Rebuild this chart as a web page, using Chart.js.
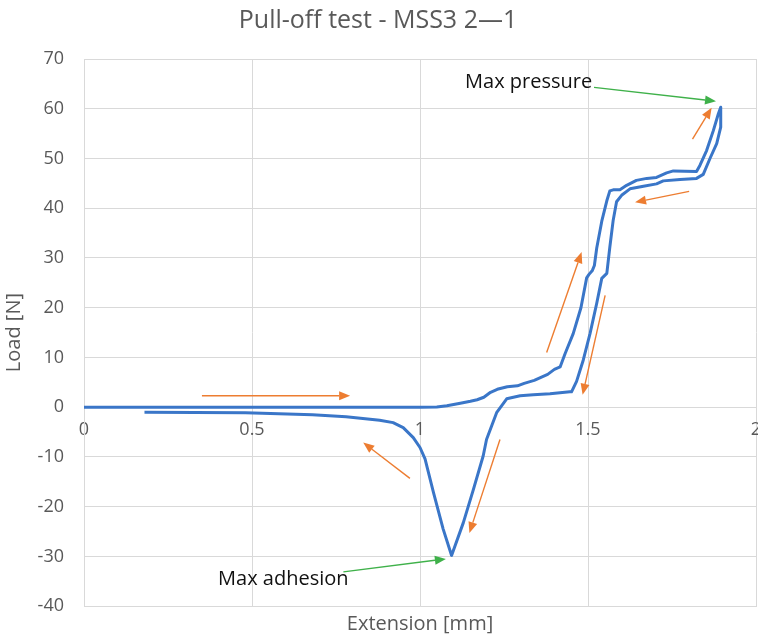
<!DOCTYPE html>
<html>
<head>
<meta charset="utf-8">
<script src="https://cdn.jsdelivr.net/npm/chart.js@4.4.1/dist/chart.umd.min.js"></script>
<style>
  body { margin: 0; background: #fff; }
  canvas { display: block; }
</style>
</head>
<body>
<canvas id="mycanvas" width="758" height="637"></canvas>
<script>
// pull-off run: load goes up to max pressure, then back down through max adhesion
var extension = [
  0, 0.5, 1.0, 1.05, 1.08, 1.12, 1.15, 1.17, 1.19, 1.21, 1.23, 1.26, 1.29, 1.31, 1.34, 1.36,
  1.38, 1.40, 1.417, 1.432, 1.456, 1.479, 1.496, 1.503, 1.513, 1.519, 1.526, 1.541, 1.556, 1.565,
  1.575, 1.595, 1.615, 1.644, 1.675, 1.704, 1.734, 1.754, 1.823, 1.833, 1.853, 1.873, 1.888, 1.895,
  1.895, 1.883, 1.863, 1.843, 1.823, 1.774, 1.724, 1.704, 1.665, 1.625, 1.600, 1.585, 1.575, 1.565,
  1.556, 1.541, 1.526, 1.506, 1.486, 1.466, 1.451, 1.446, 1.387, 1.337, 1.298, 1.258, 1.228, 1.198,
  1.188, 1.159, 1.129, 1.094, 1.069, 1.04, 1.015, 1.0, 0.98, 0.95, 0.92, 0.88, 0.78, 0.68, 0.48, 0.18
];
var load = [
  0, 0, 0, 0.05, 0.3, 0.8, 1.2, 1.5, 2.0, 3.0, 3.6, 4.1, 4.3, 4.8, 5.4, 6.0,
  6.6, 7.6, 8.1, 10.8, 14.8, 20, 26, 26.7, 27.5, 28.5, 32, 37.4, 41.5, 43.5,
  43.7, 43.7, 44.6, 45.6, 46.0, 46.2, 47.1, 47.5, 47.4, 48.6, 51.6, 55.6, 59.0, 60.3,
  56.3, 53.0, 50.0, 46.8, 46.0, 45.8, 45.5, 44.9, 44.4, 43.9, 42.6, 41.3, 37.6, 32.2,
  26.9, 25.9, 20.9, 14.8, 9.5, 5.2, 3.1, 3.1, 2.7, 2.5, 2.3, 1.7, -1.1, -6.5,
  -9.8, -16.5, -23.2, -29.8, -24.5, -17.1, -10.4, -8.1, -6.1, -4.1, -3.1, -2.6, -1.9, -1.5, -1.1, -1.0
];

var xTicks = [0, 0.5, 1, 1.5, 2];
var yTicks = [-40, -30, -20, -10, 0, 10, 20, 30, 40, 50, 60, 70];

// direction arrows, in axis units: [fromX, fromY, toX, toY, colour]
var arrows = [
  [0.351, 2.3, 0.792, 2.3, '#ed7d31'],
  [0.970, -14.3, 0.831, -7.1, '#ed7d31'],
  [1.238, -6.5, 1.147, -25.3, '#ed7d31'],
  [1.377, 11.0, 1.481, 31.2, '#ed7d31'],
  [1.551, 22.5, 1.484, 2.5, '#ed7d31'],
  [1.801, 43.4, 1.640, 41.2, '#ed7d31'],
  [1.811, 53.9, 1.868, 60.2, '#ed7d31'],
  [1.518, 64.3, 1.881, 61.5, '#3fb14a'],
  [0.772, -33.1, 1.077, -30.5, '#3fb14a']
];
var notes = [
  ['Max pressure', 1.134, 65.3],
  ['Max adhesion', 0.399, -34.6]
];

var points = [];
for (var i in extension) {
  points.push({x: extension[i], y: load[i]});
}

var gridColor = '#d9d9d9';
var textColor = '#595959';
var fontFamily = '"Open Sans", "Noto Sans", sans-serif';

var arrowPlugin = {
  id: 'arrows',
  afterDatasetsDraw: function(chart) {
    var ctx = chart.ctx;
    var sx = chart.scales.x, sy = chart.scales.y;
    ctx.save();
    arrows.forEach(function(a) {
      var x1 = sx.getPixelForValue(a[0]), y1 = sy.getPixelForValue(a[1]);
      var x2 = sx.getPixelForValue(a[2]), y2 = sy.getPixelForValue(a[3]);
      var ang = Math.atan2(y2 - y1, x2 - x1);
      var len = 11, half = 4.5;
      var bx = x2 - len * Math.cos(ang), by = y2 - len * Math.sin(ang);
      ctx.strokeStyle = a[4];
      ctx.fillStyle = a[4];
      ctx.lineWidth = 1.4;
      ctx.beginPath();
      ctx.moveTo(x1, y1);
      ctx.lineTo(bx, by);
      ctx.stroke();
      ctx.beginPath();
      ctx.moveTo(x2, y2);
      ctx.lineTo(bx + half * Math.sin(ang), by - half * Math.cos(ang));
      ctx.lineTo(bx - half * Math.sin(ang), by + half * Math.cos(ang));
      ctx.closePath();
      ctx.fill();
    });
    ctx.fillStyle = '#111';
    ctx.font = '20px ' + fontFamily;
    ctx.textAlign = 'left';
    ctx.textBaseline = 'middle';
    notes.forEach(function(n) {
      ctx.fillText(n[0], sx.getPixelForValue(n[1]), sy.getPixelForValue(n[2]));
    });
    ctx.restore();
  }
};

var ctx = document.getElementById('mycanvas');

var lineGraph = new Chart(ctx, {
  type: 'scatter',
  data: {
    datasets: [{
      label: 'Load',
      data: points,
      showLine: true,
      borderColor: '#3a76c8',
      borderWidth: 3,
      pointRadius: 0,
      tension: 0,
      borderJoinStyle: 'round'
    }]
  },
  options: {
    responsive: false,
    animation: false,
    devicePixelRatio: 1,
    layout: { padding: { right: 2 } },
    plugins: {
      legend: { display: false },
      tooltip: { enabled: false },
      title: {
        display: true,
        text: 'Pull-off test - MSS3 2\u20141',
        color: textColor,
        font: { family: fontFamily, size: 25, weight: 'normal' },
        padding: { top: 6, bottom: 23 }
      }
    },
    scales: {
      x: {
        type: 'linear',
        position: 'bottom',
        min: 0,
        max: 2,
        afterBuildTicks: function(scale) {
          scale.ticks = xTicks.map(function(v) { return {value: v}; });
        },
        afterFit: function(scale) { scale.height = 30; },
        ticks: { display: false },
        grid: { color: gridColor, drawTicks: false },
        border: { color: gridColor },
        title: {
          display: true,
          text: 'Extension [mm]',
          color: textColor,
          font: { family: fontFamily, size: 20 },
          padding: { top: 0, bottom: 0 }
        }
      },
      // tick labels sit on the zero line
      x2: {
        type: 'linear',
        axis: 'x',
        position: { y: 0 },
        min: 0,
        max: 2,
        afterBuildTicks: function(scale) {
          scale.ticks = xTicks.map(function(v) { return {value: v}; });
        },
        afterFit: function(scale) {
          scale.paddingLeft = 0;
          scale.paddingRight = 0;
        },
        grid: { display: false },
        border: { display: false },
        ticks: {
          color: textColor,
          padding: 4,
          maxRotation: 0,
          font: { family: fontFamily, size: 18 },
          callback: function(v) { return String(v); }
        }
      },
      y: {
        type: 'linear',
        position: 'left',
        min: -40,
        max: 70,
        afterBuildTicks: function(scale) {
          scale.ticks = yTicks.map(function(v) { return {value: v}; });
        },
        afterFit: function(scale) { scale.width = 84; },
        grid: { color: gridColor, drawTicks: false },
        border: { color: gridColor },
        ticks: {
          color: textColor,
          padding: 20,
          font: { family: fontFamily, size: 18 }
        },
        title: {
          display: true,
          text: 'Load [N]',
          color: textColor,
          font: { family: fontFamily, size: 20 },
          padding: { top: 2, bottom: 0 }
        }
      }
    }
  },
  plugins: [arrowPlugin]
});
</script>
</body>
</html>
